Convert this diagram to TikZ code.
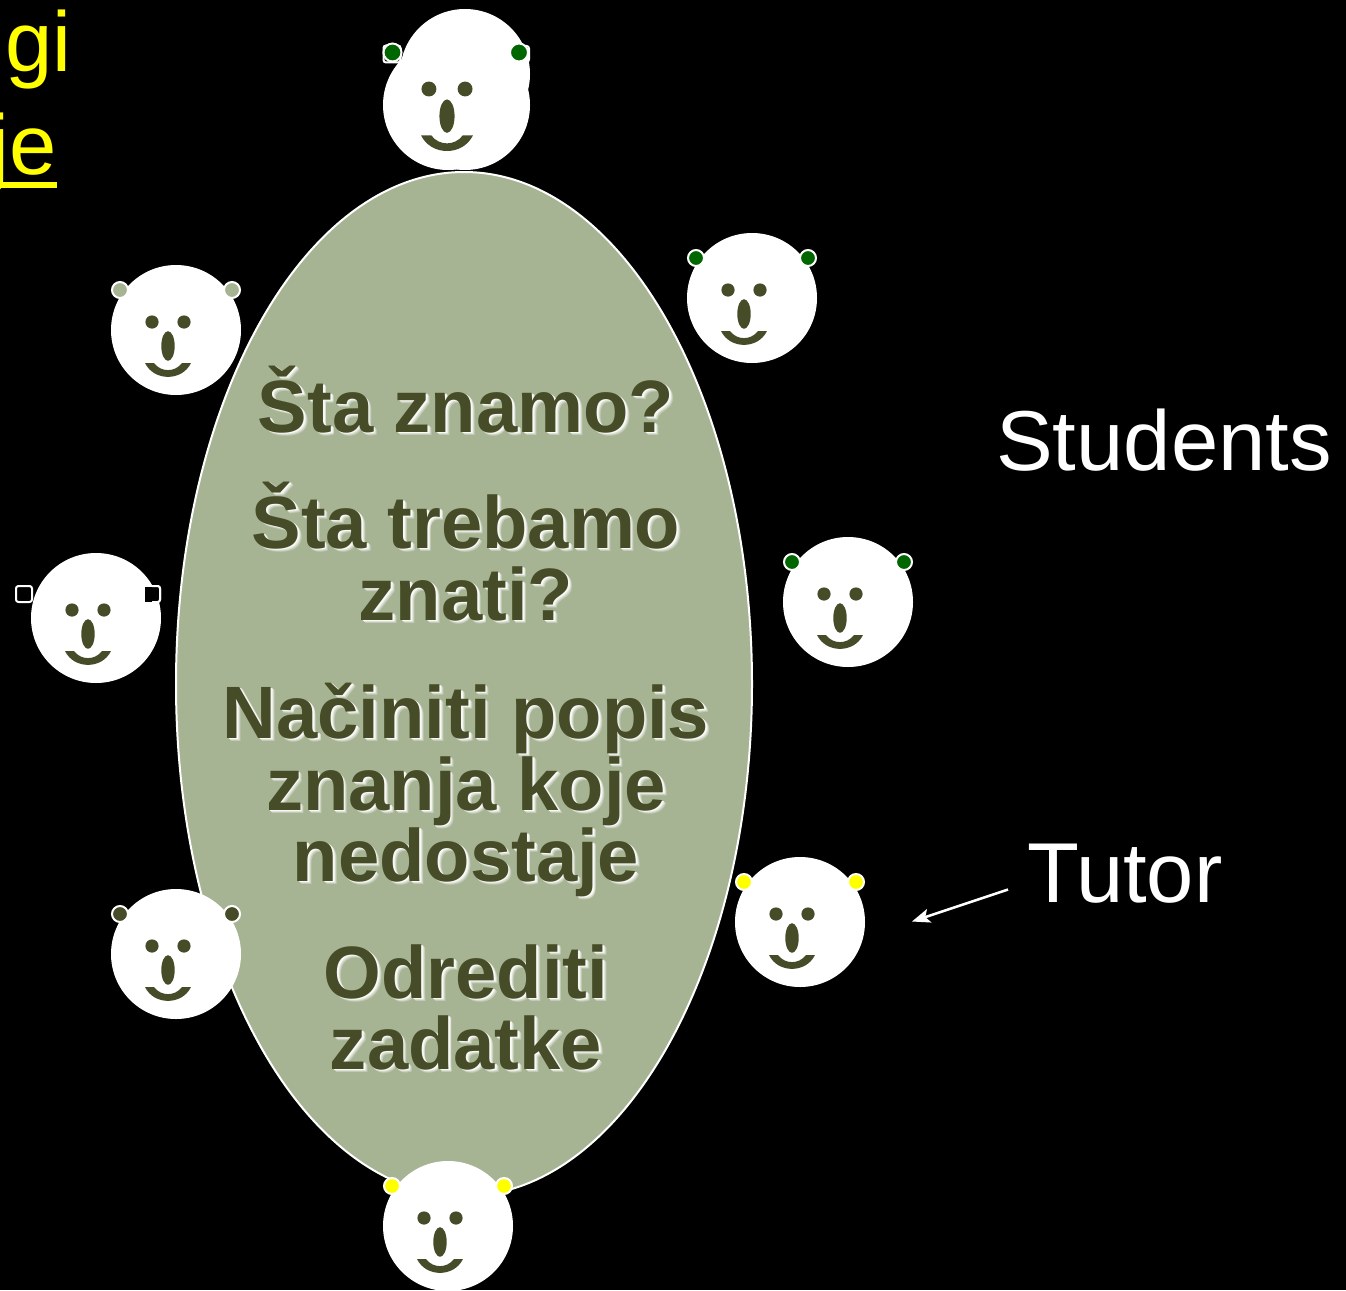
\documentclass[tikz,border=0pt]{standalone}
\usepackage{fontspec}
\setmainfont{Liberation Sans}
\usetikzlibrary{arrows.meta,shapes.geometric}
\definecolor{sage}{HTML}{A7B493}
\definecolor{olive}{HTML}{464C27}
\definecolor{eargreen}{HTML}{006600}
\definecolor{earyellow}{HTML}{FFFF00}
\definecolor{txtyellow}{HTML}{FFFF00}
\tikzset{
  facebody/.style={circle,fill=white,draw=none,inner sep=0pt,minimum size=130pt},
  earround/.style={circle,draw=white,line width=2pt,inner sep=0pt,minimum size=16pt},
  earsquare/.style={rectangle,rounded corners=2.5pt,draw=white,line width=2pt,fill=black,inner sep=0pt,minimum size=16pt},
  feature/.style={fill=olive,draw=none},
  heading/.style={font=\fontsize{74.2}{74.2}\selectfont\bfseries,text=olive,anchor=base,inner sep=0pt},
  bigwhite/.style={font=\fontsize{85}{85}\selectfont,text=white,anchor=base west,inner sep=0pt},
  bigyellow/.style={font=\fontsize{85}{85}\selectfont,text=txtyellow,anchor=base east,inner sep=0pt},
}
% features: nose x, eye y, scale
\newcommand{\facefeatures}[3]{%
  \begin{scope}[shift={(#1,#2)},scale=#3]
    \fill[feature] (-16,0) circle (6.6);
    \fill[feature] (16,0) circle (6.6);
    \fill[feature] (0,24) ellipse (6.7 and 14.8);
    \fill[feature] (-23,41) .. controls (-14,59.5) and (14,59.5) .. (23,41)
      -- (14,41) .. controls (7,50.5) and (-7,50.5) .. (-14,41) -- cycle;
  \end{scope}}
% name, cx, cy, ear fill
\newcommand{\roundface}[4]{%
  \node[facebody] (#1) at (#2,#3) {};
  \node[earround,fill=#4] (#1L) at (#2-56,#3-40) {};
  \node[earround,fill=#4] (#1R) at (#2+56,#3-40) {};
  \facefeatures{#2-8}{#3-8}{1}}
% one text line with a soft shadow set inside the same node
\newcommand{\shadowcopy}[3]{\rlap{\hspace{#1pt}\raisebox{-#1pt}{\textcolor{white!#2!sage}{#3}}}}
\newcommand{\headline}[4]{%
  \node[heading] (#1) at (#3,#4) {\shadowcopy{3.6}{30}{#2}\shadowcopy{2.8}{60}{#2}\shadowcopy{1.8}{92}{#2}#2};}
\begin{document}
\begin{tikzpicture}[x=1pt,y=-1pt]
\useasboundingbox (0,0) rectangle (1346,1290);
\fill[black] (0,0) rectangle (1346,1290);

% title fragments
\node[bigyellow] (frag1) at (71.5,71) {gi};
\node[bigyellow] (frag2) at (57,174) {je};
\fill[txtyellow] (0,182) rectangle (57,188);

% table
\node[ellipse,draw=white,line width=2pt,fill=sage,minimum width=576pt,minimum height=1024pt,inner sep=0pt] (table) at (464,684) {};

% text
\headline{l1}{Šta znamo?}{466}{432}
\headline{l2}{Šta trebamo}{466}{548}
\headline{l3}{znati?}{466}{620}
\headline{l4}{Načiniti popis}{466}{738}
\headline{l5}{znanja koje}{466}{810}
\headline{l6}{nedostaje}{466}{881}
\headline{l7}{Odrediti}{466}{998}
\headline{l8}{zadatke}{466}{1069}

% top face (overlapping bodies)
\node[earsquare,minimum size=17pt] (topLs) at (392,54) {};
\node[earsquare,minimum size=16pt] (topRs) at (521,54) {};
\node[facebody] (topA) at (465,74) {};
\node[facebody] (topB) at (448,105) {};
\node[facebody] (topC) at (465,105) {};
\node[earround,minimum size=18pt,fill=eargreen] (topL) at (392.5,52.5) {};
\node[earround,minimum size=18pt,fill=eargreen] (topR) at (519,52.5) {};
\facefeatures{447}{89}{1.13}

% other faces
\roundface{fa}{752}{298}{eargreen}
\roundface{fb}{848}{602}{eargreen}
\roundface{fc}{176}{330}{sage}
\roundface{fd}{176}{954}{olive}
\roundface{tutor}{800}{922}{earyellow}
\roundface{fe}{448}{1226}{earyellow}

% left face, square ears
\node[earsquare] (fgL) at (24,594) {};
\node[earsquare] (fgR) at (152,594) {};
\node[facebody] (fg) at (96,618) {};
\node[rectangle,draw=none,fill=black,inner sep=0pt,minimum width=14pt,minimum height=15pt] (fgRi) at (152,594) {};
\draw[white,line width=2pt,rounded corners=2.5pt] (152,586) -- (160,586) -- (160,602) -- (152,602);
\facefeatures{88}{610}{1}

% labels
\node[bigwhite] (students) at (996,470) {Students};
\node[bigwhite] (tutorlabel) at (1027,902) {Tutor};

% arrow
\coordinate (arrowstart) at (1008,889.5);
\coordinate (arrowend) at (912,921.5);
\draw[white,line width=2.5pt,-{Stealth[length=18pt,width=14pt,inset=4pt]}] (arrowstart) -- (arrowend);
\end{tikzpicture}
\end{document}
